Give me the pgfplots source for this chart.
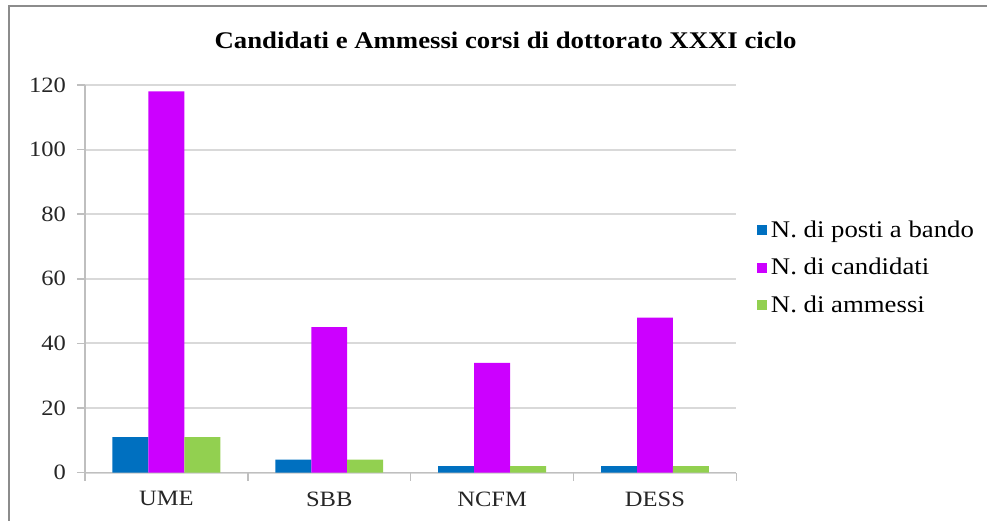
\documentclass[border=0pt]{standalone}
\usepackage{fontspec}
\setmainfont{Liberation Serif}[FakeStretch=1.12]
\usepackage{pgfplots}
\pgfplotsset{compat=1.18}
\definecolor{posti}{HTML}{0070C0}
\definecolor{cand}{HTML}{CC00FF}
\definecolor{amm}{HTML}{92D050}
\definecolor{gridgray}{HTML}{D9D9D9}
\definecolor{axgray}{HTML}{BFBFBF}
\definecolor{framegray}{HTML}{8C8C8C}

\pgfplotstableread{
x posti candidati ammessi
0 11 118 11
1 4  45  4
2 2  34  2
3 2  48  2
}\dottorato

\begin{document}
\begin{tikzpicture}[x=0.5bp,y=0.5bp]
% drawing canvas, 988 x 521 units
\path (0,0) rectangle (988,521);
\draw[framegray, line width=0.8bp] (9,0) -- (9,515) -- (988,515);
\node[font=\bfseries\fontsize{12}{14}\selectfont] at (506,481)
  {Candidati e Ammessi corsi di dottorato XXXI ciclo};
\begin{axis}[
  at={(42.5bp,24bp)}, anchor=south west,
  scale only axis, width=326bp, height=194bp,
  ybar=0pt, bar width=18bp,
  xmin=-0.5, xmax=3.5, ymin=0, ymax=120,
  ytick={0,20,...,120},
  xtick={0,1,2,3},
  xticklabels={UME,SBB,NCFM,DESS},
  axis lines=left,
  axis line style={-, axgray, line width=0.8bp},
  ymajorgrids, grid style={gridgray, line width=1bp},
  tick align=outside, major tick length=4bp,
  ytick style={axgray, line width=0.8bp},
  xtick style={draw=none},
  extra x ticks={-0.5,0.5,1.5,2.5,3.5},
  extra x tick labels={},
  extra x tick style={grid=none, xtick style={draw=axgray, line width=0.8bp}},
  ticklabel style={font=\fontsize{11}{13}\selectfont, text=black!85},
  /pgf/number format/assume math mode=true,
  yticklabel style={xshift=-2bp},
  xticklabel style={yshift=-2bp},
  legend style={at={(1.031,0.528)}, anchor=west, draw=none, fill=none,
    font=\fontsize{12}{14}\selectfont, row sep=5bp,
    inner sep=0pt, cells={anchor=west}},
  legend image code/.code={\fill[#1] (0bp,-2.5bp) rectangle (5bp,2.5bp);},
  legend cell align=left,
]
\addplot[fill=posti, draw=none] table[x=x, y=posti] {\dottorato};
\addplot[fill=cand, draw=none] table[x=x, y=candidati] {\dottorato};
\addplot[fill=amm, draw=none] table[x=x, y=ammessi] {\dottorato};
\legend{N.~di posti a bando, N.~di candidati, N.~di ammessi}
\end{axis}
\end{tikzpicture}
\end{document}
